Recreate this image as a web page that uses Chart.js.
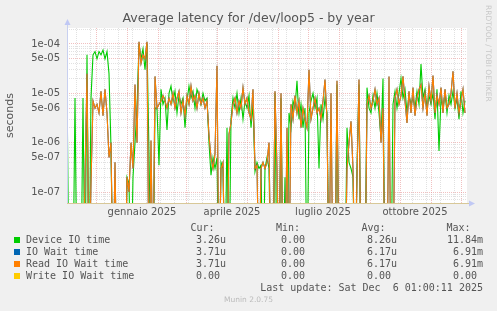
<!DOCTYPE html>
<html>
<head>
<meta charset="utf-8">
<script src="https://cdn.jsdelivr.net/npm/chart.js@4"></script>
<style>
  html, body { margin: 0; padding: 0; background: #f0f0f0; }
  #wrap { position: relative; width: 497px; height: 311px; overflow: hidden; }
  canvas { position: absolute; left: 0; top: 0; }
  .t { position: absolute; font: 10px "DejaVu Sans Mono", monospace; color: #555; white-space: pre; line-height: 12px; }
  .sq { position: absolute; width: 6px; height: 6px; }
  #rrd { position: absolute; left: 484px; top: 5px; writing-mode: vertical-rl; font: 7.5px "DejaVu Sans", sans-serif; color: #c8c8c8; white-space: pre; }
  #munin { position: absolute; left: 0; width: 497px; top: 295px; text-align: center; font: 7.5px "DejaVu Sans", sans-serif; color: #bbb; }
</style>
</head>
<body>
<div id="wrap">
  <canvas id="chart" width="497" height="311"></canvas>
  <div id="rrd">RRDTOOL / TOBI OETIKER</div>
  <div id="munin">Munin 2.0.75</div>
</div>
<script>
// one point every 2 days, day 0 = 2 Nov 2024
const startDay = Date.UTC(2024, 10, 2);
const stepDays = 2;

// Device IO time (seconds), 0 = no latency recorded
const deviceIoTime = [
  1.5e-5, 0, 0, 0, 8e-6, 0, 0, 0, 8e-6, 0,
  6e-5, 0, 8e-6, 6e-5, 7e-5, 5e-5, 7e-5, 6e-5, 7.5e-5, 5e-5,
  7e-5, 2.5e-5, 8e-7, 0, 0, 0, 0, 0, 0, 0,
  2e-7, 1.5e-7, 0, 2e-7, 1e-6, 5e-6, 1e-4, 5e-5, 8e-5, 3e-5,
  1e-4, 6e-7, 0, 0, 5e-6, 5e-6, 3.5e-7, 1.2e-5, 6e-6, 8e-6,
  1.8e-6, 1e-5, 1.4e-5, 7e-6, 1.1e-5, 4e-6, 9e-6, 6e-6, 8e-6, 2e-6,
  7e-6, 1.4e-5, 8e-6, 1.1e-5, 5e-6, 1.2e-5, 9e-6, 6e-6, 1e-5, 7e-6,
  8e-6, 1e-6, 2.2e-7, 5e-7, 3e-7, 5e-7, 0, 4e-7, 3e-7, 0,
  2e-6, 0, 3e-6, 8e-6, 5e-6, 1e-5, 4e-6, 8e-6, 3e-6, 7e-6,
  5e-6, 9e-6, 2e-6, 6e-6, 2.6e-7, 4e-7, 3e-7, 3.5e-7, 0, 3e-7,
  5e-7, 3e-7, 0, 0, 1e-5, 0, 0, 8e-6, 0, 2e-7,
  0, 4e-6, 2e-6, 7e-6, 5e-6, 1.8e-5, 3e-6, 6e-6, 2e-6, 5e-6,
  0, 4e-6, 7e-6, 1e-5, 5e-6, 8e-6, 3e-7, 6e-6, 3e-6, 8e-6,
  4e-6, 0, 0, 0, 0, 1.5e-5, 0, 0, 0, 0,
  2e-6, 4e-7, 3e-7, 2e-7, 0, 3e-7, 1.5e-5, 0, 0, 0,
  1.3e-5, 5e-6, 4e-6, 9e-6, 5e-6, 1e-5, 4e-6, 1.2e-6, 2e-5, 0,
  0, 0, 0, 6e-6, 1.1e-5, 5e-6, 1e-5, 2e-5, 8e-6, 1.2e-5,
  4e-6, 9e-6, 6e-6, 8e-6, 5e-6, 1.1e-5, 6e-6, 3.9e-5, 8e-6, 1.2e-5,
  5e-6, 9e-6, 6e-6, 1e-5, 3e-6, 1.2e-5, 6.8e-7, 8e-6, 5e-6, 1e-5,
  4e-6, 9e-6, 6e-6, 1.1e-5, 5e-6, 8e-6, 3e-6, 1.1e-5, 4e-6, 7e-6
];

// Read IO Wait time (seconds)
const readIoWaitTime = [
  0, 0, 0, 0, 0, 0, 0, 0, 0, 2e-7,
  2.5e-5, 0, 1.5e-7, 7e-6, 5e-6, 6e-6, 4e-6, 1.1e-5, 3.5e-6, 1.2e-5,
  4e-6, 5e-7, 1e-6, 0, 4e-7, 0, 0, 0, 0, 0,
  2e-7, 1e-7, 1e-6, 3e-7, 1.5e-5, 1e-6, 1.1e-4, 4e-5, 6e-5, 5e-5,
  1.1e-4, 0, 1.1e-6, 0, 2.2e-5, 5e-6, 6e-6, 7e-6, 9e-6, 7e-6,
  5e-6, 8e-6, 6e-6, 1e-5, 5e-6, 8e-6, 1.1e-5, 4e-6, 7e-6, 3.5e-6,
  9e-6, 6e-6, 1.4e-5, 7e-6, 9e-6, 5e-6, 1e-5, 6e-6, 8e-6, 5e-6,
  7e-6, 1.4e-6, 5e-7, 3e-7, 6e-7, 3.6e-5, 0, 3e-7, 4e-7, 0,
  0, 1.5e-6, 2.5e-6, 6e-6, 8e-6, 4e-6, 7e-6, 5e-6, 1.3e-5, 6e-6,
  8e-6, 4e-6, 3e-6, 1.2e-5, 3e-7, 3.5e-7, 0, 3e-7, 4e-7, 3e-7,
  4e-7, 1e-6, 0, 0, 1.1e-5, 3e-7, 0, 1e-5, 0, 0,
  2e-6, 0, 6e-6, 3e-6, 9e-6, 4e-6, 7e-6, 2e-6, 5e-6, 3e-6,
  2e-6, 3e-5, 3e-6, 5e-6, 8e-6, 4e-6, 5e-6, 3e-6, 7e-6, 1.9e-5,
  3e-6, 0, 1e-5, 0, 0, 1.8e-5, 0, 0, 0, 0,
  3e-7, 1e-6, 2.7e-6, 3e-7, 0, 2e-7, 1.9e-5, 0, 0, 0,
  6e-6, 9e-6, 5e-6, 7e-6, 1.2e-5, 6e-6, 8e-6, 1e-6, 5e-6, 0,
  0, 2.2e-5, 0, 0, 8e-6, 1.2e-5, 6e-6, 9e-6, 2.2e-5, 7e-6,
  2.5e-6, 1.1e-5, 4e-6, 1.3e-5, 3.5e-6, 8e-6, 1.2e-5, 1.5e-5, 5e-6, 1e-5,
  3.5e-6, 1.4e-5, 7e-6, 2.3e-5, 4e-6, 9e-6, 6e-6, 1.3e-5, 4e-6, 1.2e-5,
  5e-6, 6e-6, 1e-5, 2.8e-5, 5e-6, 1e-5, 4e-6, 7e-6, 1.2e-5, 4e-6
];

// IO Wait is identical to Read IO Wait here (same stats in legend), write is always 0
const ioWaitTime = readIoWaitTime.slice();
const writeIoWaitTime = new Array(readIoWaitTime.length).fill(0);

const seriesNames = ['Device IO time', 'IO Wait time', 'Read IO Wait time', 'Write IO Wait time'];
const seriesColors = ['#00CC00', '#0066B3', '#FF8000', '#FFCC00'];
const curValues = ['3.26u', '3.71u', '3.71u', '0.00 '];
const minValues = ['0.00 ', '0.00 ', '0.00 ', '0.00 '];
const avgValues = ['8.26u', '6.17u', '6.17u', '0.00 '];
const maxValues = ['11.84m', '6.91m', '6.91m', '0.00 '];

const quarterLabels = ['gennaio 2025', 'aprile 2025', 'luglio 2025', 'ottobre 2025'];
const quarterStarts = ['2025-01-01', '2025-04-01', '2025-07-01', '2025-10-01'];
const monthStarts = ['2024-12-01', '2025-01-01', '2025-02-01', '2025-03-01', '2025-04-01', '2025-05-01',
  '2025-06-01', '2025-07-01', '2025-08-01', '2025-09-01', '2025-10-01', '2025-11-01', '2025-12-01'];

const Y_MIN = 6e-8, Y_MAX = 2.1e-4;
const X_MAX = 400;

const dayOf = s => Math.round((Date.parse(s + 'T00:00:00Z') - startDay) / 86400000);
const days = deviceIoTime.map((_, i) => i * stepDays);
const monthDays = monthStarts.map(dayOf);
const labelDays = quarterStarts.map(s => dayOf(s) + 15); // rrdtool centres month labels mid-period
const minorDays = [];
for (let d = 9; d < X_MAX; d += 14) if (!monthDays.includes(d)) minorDays.push(d);

// zero has no place on a log axis: send it below the plot so the line drops off the bottom
const toPlot = arr => arr.map(v => v > 0 ? v : 1e-9);

const RED = 'rgba(232,150,150,0.6)';
const GREY = 'rgba(200,200,200,0.55)';

const bgPlugin = {
  id: 'bg',
  beforeDraw(chart) {
    const { ctx, chartArea: a } = chart;
    ctx.save();
    ctx.fillStyle = '#f0f0f0';
    ctx.fillRect(0, 0, chart.width, chart.height);
    ctx.fillStyle = '#ffffff';
    ctx.fillRect(a.left, a.top, a.right - a.left, a.bottom - a.top);
    ctx.restore();
  },
  afterDatasetsDraw(chart) {
    const { ctx, chartArea: a } = chart;
    ctx.save();
    ctx.lineWidth = 1;
    // write IO wait sits at 0 all year, on top of the x axis
    ctx.strokeStyle = '#d8c898';
    ctx.beginPath();
    ctx.moveTo(a.left, a.bottom + 0.5);
    ctx.lineTo(a.right + 2, a.bottom + 0.5);
    ctx.stroke();
    ctx.strokeStyle = '#c8d0f0';
    ctx.beginPath();
    ctx.moveTo(a.left + 0.5, a.bottom);
    ctx.lineTo(a.left + 0.5, a.top - 4);
    ctx.stroke();
    ctx.fillStyle = '#c0c8f4';
    ctx.beginPath();
    ctx.moveTo(a.left - 2.5, a.top - 3);
    ctx.lineTo(a.left + 3.5, a.top - 3);
    ctx.lineTo(a.left + 0.5, a.top - 9);
    ctx.closePath();
    ctx.fill();
    ctx.beginPath();
    ctx.moveTo(a.right + 2, a.bottom - 2.5);
    ctx.lineTo(a.right + 2, a.bottom + 3.5);
    ctx.lineTo(a.right + 8, a.bottom + 0.5);
    ctx.closePath();
    ctx.fill();
    ctx.restore();
  }
};

const line = (label, data, color) => ({
  label, data: toPlot(data), borderColor: color, backgroundColor: color,
  borderWidth: 1.1, pointRadius: 0, tension: 0, fill: false
});

new Chart(document.getElementById('chart'), {
  type: 'line',
  data: {
    labels: days,
    // first dataset is painted last, so reverse munin's drawing order
    datasets: [
      line(seriesNames[3], writeIoWaitTime, seriesColors[3]),
      line(seriesNames[2], readIoWaitTime, seriesColors[2]),
      line(seriesNames[1], ioWaitTime, seriesColors[1]),
      line(seriesNames[0], deviceIoTime, seriesColors[0])
    ]
  },
  options: {
    responsive: false,
    animation: false,
    layout: { padding: { left: 0, right: 0, top: 0, bottom: 88 } },
    plugins: {
      legend: { display: false },
      tooltip: { enabled: false },
      title: {
        display: true,
        text: 'Average latency for /dev/loop5 - by year',
        color: '#555',
        font: { family: 'DejaVu Sans', size: 12.5, weight: 'normal', lineHeight: 1 },
        padding: { top: 12, bottom: 3.5 }
      }
    },
    scales: {
      x: {
        type: 'linear',
        min: 0,
        max: X_MAX,
        afterBuildTicks(scale) {
          const all = [...monthDays, ...minorDays, ...labelDays].sort((p, q) => p - q);
          scale.ticks = all.map(v => ({ value: v }));
        },
        afterFit(scale) { scale.height = 20; },
        ticks: {
          autoSkip: false,
          maxRotation: 0,
          padding: 3,
          color: '#555',
          font: { family: 'DejaVu Sans', size: 10 },
          callback: v => {
            const k = labelDays.indexOf(v);
            return k >= 0 ? quarterLabels[k] : '';
          }
        },
        grid: {
          drawTicks: false,
          lineWidth: 1,
          color: c => monthDays.includes(c.tick.value) ? RED
            : minorDays.includes(c.tick.value) ? GREY : 'rgba(0,0,0,0)'
        },
        border: { display: false, dash: [1, 1] }
      },
      y: {
        type: 'logarithmic',
        min: Y_MIN,
        max: Y_MAX,
        afterBuildTicks(scale) {
          const vals = [];
          for (let e = -8; e <= -4; e++) {
            for (let m = 1; m <= 9; m++) {
              const v = Number(m + 'e' + e);
              if (v >= Y_MIN && v <= Y_MAX) vals.push(v);
            }
          }
          scale.ticks = vals.map(v => ({ value: v }));
        },
        afterFit(scale) { scale.width = 67; },
        ticks: {
          autoSkip: false,
          padding: 7,
          color: '#555',
          font: { family: 'DejaVu Sans', size: 10 },
          callback: v => {
            const [m, e] = v.toExponential().split('e');
            const mant = Math.round(Number(m));
            if (mant !== 1 && mant !== 5) return '';
            return mant + 'e-' + String(-Number(e)).padStart(2, '0');
          }
        },
        grid: {
          drawTicks: false,
          lineWidth: 1,
          color: c => {
            const mant = Math.round(Number(c.tick.value.toExponential().split('e')[0]));
            return (mant === 1 || mant === 5) ? RED : GREY;
          }
        },
        border: { display: false, dash: [1, 1] },
        title: {
          display: true,
          text: 'seconds',
          color: '#555',
          font: { family: 'DejaVu Sans', size: 11 },
          padding: { top: 4, bottom: 0 }
        }
      },
      // empty right-hand axis only reserves the margin so the title centres on the image
      yRight: {
        position: 'right',
        display: true,
        ticks: { display: false },
        grid: { display: false },
        border: { display: false },
        afterFit(scale) { scale.width = 30; }
      }
    }
  },
  plugins: [bgPlugin]
});

// legend table, munin style
const wrap = document.getElementById('wrap');
const addText = (txt, x, y, right) => {
  const d = document.createElement('div');
  d.className = 't';
  d.textContent = txt;
  d.style.top = (y - 6) + 'px';
  if (right) d.style.right = (497 - x) + 'px'; else d.style.left = x + 'px';
  wrap.appendChild(d);
};
const headerY = 228;
addText('Cur:', 190.5, headerY);
addText('Min:', 276, headerY);
addText('Avg:', 361.5, headerY);
addText('Max:', 446.5, headerY);
seriesNames.forEach((name, i) => {
  const y = 240 + i * 12;
  const sq = document.createElement('div');
  sq.className = 'sq';
  sq.style.left = '14px';
  sq.style.top = (y - 3) + 'px';
  sq.style.background = seriesColors[i];
  wrap.appendChild(sq);
  addText(name, 26, y);
  addText(curValues[i], 226, y, true);
  addText(minValues[i], 311, y, true);
  addText(avgValues[i], 397, y, true);
  addText(maxValues[i], 483, y, true);
});
addText('Last update: Sat Dec  6 01:00:11 2025', 483, 288, true);
</script>
</body>
</html>
